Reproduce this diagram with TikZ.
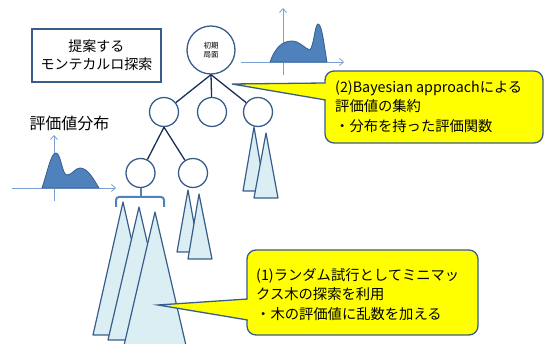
\documentclass[tikz,border=0pt]{standalone}
\usepackage{fontspec}
\setmainfont{Noto Sans CJK JP}
\usetikzlibrary{arrows.meta}
\definecolor{edgeblue}{RGB}{56,93,138}
\definecolor{linenavy}{RGB}{23,45,90}
\definecolor{trifill}{RGB}{219,238,244}
\definecolor{distfill}{RGB}{79,129,189}
\definecolor{axisblue}{RGB}{120,160,210}
\definecolor{bracketblue}{RGB}{79,129,189}
\definecolor{calloutyellow}{RGB}{255,255,0}
\begin{document}
\begin{tikzpicture}[x=1pt,y=-1pt,
  treenode/.style={circle,draw=edgeblue,line width=1.3pt,fill=white,minimum size=29pt,inner sep=0pt},
  rootnode/.style={circle,draw=edgeblue,line width=1.3pt,fill=white,minimum size=48pt,inner sep=0pt,align=center,font=\fontsize{7.5}{9}\selectfont},
  treeedge/.style={draw=linenavy,line width=1.3pt},
  subtree/.style={draw=edgeblue,fill=trifill,line width=1.2pt,line join=round},
  dist/.style={draw=edgeblue,fill=distfill,line width=0.8pt},
  axis/.style={draw=axisblue,line width=0.8pt,-{Straight Barb[length=4pt,width=7pt]}},
  calloutbox/.style={draw=edgeblue,fill=calloutyellow,line width=1.3pt,rounded corners=9pt},
  callouttext/.style={anchor=north west,inner sep=0pt,align=left,font=\fontsize{14.3}{19.5}\selectfont},
  titlebox/.style={draw=edgeblue,line width=1.5pt,minimum width=129pt,minimum height=53pt,align=center,font=\fontsize{14}{18}\selectfont}
]
\useasboundingbox (0,0) rectangle (544,344);
\begin{scope}
\clip (0,0) rectangle (544,344);

% title box
\node[titlebox] (title) at (96.5,55.5) {提案する\\モンテカルロ探索};

% upper distribution
\coordinate (ua0) at (283,75);
\coordinate (ua1) at (283,8);
\coordinate (ub0) at (241,62);
\coordinate (ub1) at (344,62);
\draw[axis] (ua0) -- (ua1);
\draw[axis] (ub0) -- (ub1);
\draw[dist] (270,62) .. controls (275,48) and (282,41) .. (292,41)
  .. controls (300,41) and (305,49) .. (310,50)
  .. controls (314,45) and (315,24) .. (318,24)
  .. controls (322,24) and (324,45) .. (327,62) -- cycle;

% lower distribution
\node[font=\fontsize{16}{16}\selectfont,inner sep=0pt] (distlabel) at (69.5,123) {評価値分布};
\coordinate (la0) at (54,201);
\coordinate (la1) at (54,135);
\coordinate (lb0) at (12,188);
\coordinate (lb1) at (116,188);
\draw[axis] (la0) -- (la1);
\draw[axis] (lb0) -- (lb1);
\draw[dist] (42,188) .. controls (48,170) and (51,153) .. (56,153)
  .. controls (61,153) and (62,175) .. (67,175)
  .. controls (72,175) and (75,168) .. (80,168)
  .. controls (88,168) and (94,180) .. (99,188) -- cycle;

% tree nodes
\node[rootnode] (root) at (211,50) {初期\\局面};
\node[treenode] (b1) at (164,112) {};
\node[treenode] (b2) at (212,112) {};
\node[treenode] (b3) at (258,112) {};
\node[treenode] (c1) at (140.5,173) {};
\node[treenode] (c2) at (193,173) {};

% subtrees (triangles)
\draw[subtree] (123,202) -- (93,335) -- (153,335) -- cycle;
\draw[subtree] (139,207) -- (108,340) -- (170,340) -- cycle;
\draw[subtree] (155,212) -- (122.5,352) -- (187.5,352) -- cycle;
\draw[subtree] (188,190) -- (177,252) -- (199,252) -- cycle;
\draw[subtree] (199,194) -- (188,259) -- (212,259) -- cycle;
\draw[subtree] (254,127) -- (243,191) -- (265,191) -- cycle;
\draw[subtree] (266,133) -- (254,198) -- (278,198) -- cycle;

% edges
\draw[treeedge] (root.south) -- (b1);
\draw[treeedge] (root.south) -- (b2);
\draw[treeedge] (root.south) -- (b3);
\draw[treeedge] (b1.south) -- (c1);
\draw[treeedge] (b1.south) -- (c2);

% bracket
\coordinate (brk) at (140.5,197);
\draw[draw=bracketblue,line width=2pt] (c1.south) -- (brk);
\draw[draw=bracketblue,line width=2pt,rounded corners=3pt] (116,207) -- (116,197) -- (164,197) -- (164,207);

% callout 2
\draw[calloutbox] (325,71) rectangle (543,143);
\coordinate (tip2) at (232,84);
\fill[calloutyellow] (327,83) -- (tip2) -- (327,100) -- cycle;
\draw[draw=edgeblue,line width=1.3pt,line join=miter] (325.6,83) -- (tip2) -- (325.6,100);
\node[callouttext] (t2) at (335,80.5) {(2)Bayesian approachによる\\評価値の集約\\・分布を持った評価関数};

% callout 1
\draw[calloutbox] (247,250) rectangle (478,335);
\coordinate (tip1) at (158,305);
\fill[calloutyellow] (249,299) -- (tip1) -- (249,320) -- cycle;
\draw[draw=edgeblue,line width=1.3pt,line join=miter] (247.6,299) -- (tip1) -- (247.6,320);
\node[callouttext] (t1) at (256,268) {(1)ランダム試行としてミニマッ\\クス木の探索を利用\\・木の評価値に乱数を加える};
\end{scope}
\end{tikzpicture}
\end{document}
